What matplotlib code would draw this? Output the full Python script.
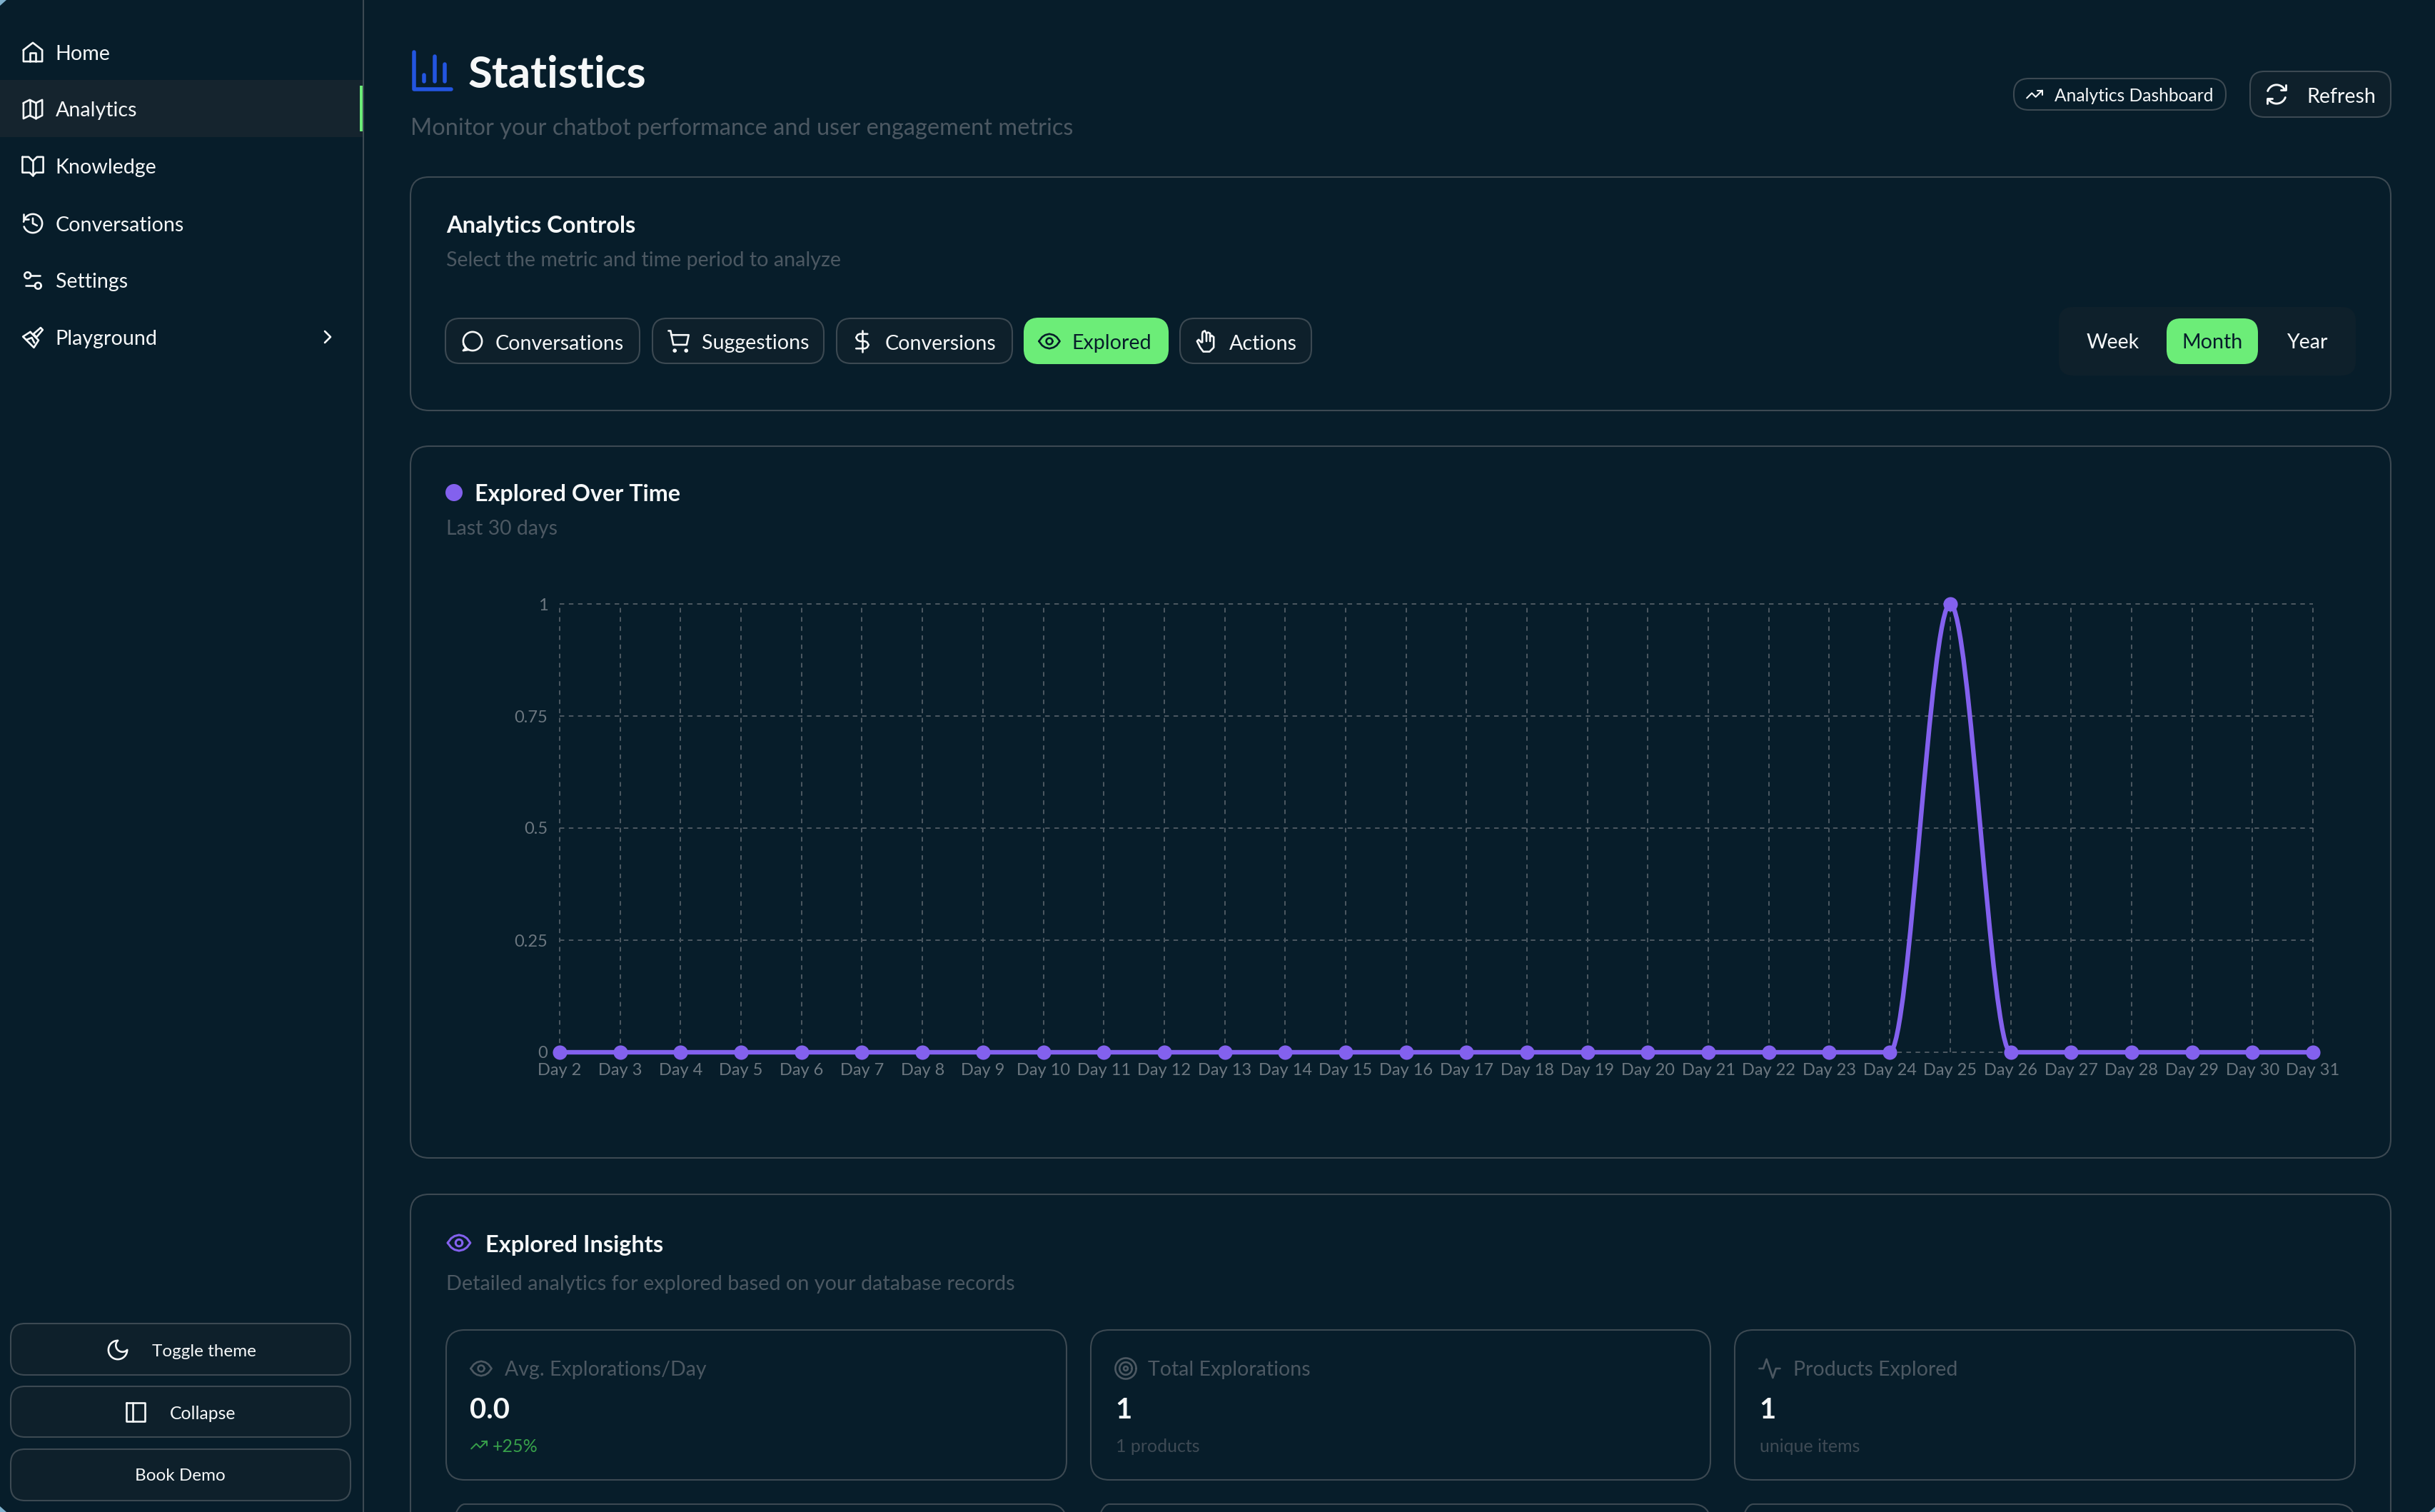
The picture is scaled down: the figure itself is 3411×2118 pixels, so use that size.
import numpy as np
import matplotlib
matplotlib.use('Agg')
import matplotlib.pyplot as plt
from matplotlib.patches import FancyBboxPatch, Circle, PathPatch, Rectangle, Polygon
from matplotlib.path import Path

plt.rcParams['font.family'] = ['Lato', 'DejaVu Sans']

W, H = 3412, 2118

# --- data ---
days = ['Day %d' % d for d in range(2, 32)]
explored = [0, 0, 0, 0, 0, 0, 0, 0, 0, 0, 0, 0, 0, 0, 0, 0, 0, 0, 0, 0, 0, 0, 0, 1, 0, 0, 0, 0, 0, 0]
y_ticks = [0, 0.25, 0.5, 0.75, 1]
y_tick_labels = ['0', '0.25', '0.5', '0.75', '1']

nav_labels = ['Home', 'Analytics', 'Knowledge', 'Conversations', 'Settings', 'Playground']
nav_icons = ['home', 'map', 'book', 'history', 'sliders', 'brush']
metric_labels = ['Conversations', 'Suggestions', 'Conversions', 'Explored', 'Actions']
metric_icons = ['message', 'cart', 'dollar', 'eye', 'hand']
period_labels = ['Week', 'Month', 'Year']
stat_labels = ['Avg. Explorations/Day', 'Total Explorations', 'Products Explored']
stat_values = ['0.0', '1', '1']
stat_notes = ['+25%', '1 products', 'unique items']
stat_icons = ['eye', 'target', 'activity']

# --- colours ---
BG = '#071d2a'
BORDER = '#3c4952'
BTN = '#0e202b'
ACTIVE = '#15242e'
GREEN = '#6ced78'
PURPLE = '#8361ee'
BLUE = '#2355e0'
WHITE = '#f5f7f8'
DIM = '#4c5862'
DIMMER = '#3e4a54'
TICK = '#6c7780'
GRID = '#4d5962'
SOFT_GREEN = '#37a04a'
CORNER = '#7fb0cc'


def arc(cx, cy, r, t1, t2, n=40):
    t = np.radians(np.linspace(t1, t2, n))
    return list(zip(cx + r * np.cos(t), cy + r * np.sin(t)))


# lucide style icons on a 24 unit grid, angles run clockwise because y points down
ICONS = {
    'home': [[(3, 10), (12, 3), (21, 10), (21, 21), (3, 21), (3, 10)], [(9, 21), (9, 13), (15, 13), (15, 21)]],
    'map': [[(3, 6), (9, 3), (15, 6), (21, 3), (21, 18), (15, 21), (9, 18), (3, 21), (3, 6)], [(9, 3), (9, 18)], [(15, 6), (15, 21)]],
    'book': [[(2, 3), (8, 3), (12, 7), (16, 3), (22, 3), (22, 18), (15, 18), (12, 21), (9, 18), (2, 18), (2, 3)], [(12, 7), (12, 21)]],
    'history': [arc(12, 12, 9, 190, 520), [(3, 3), (3, 8), (8, 8)], [(12, 7), (12, 12), (16, 14)]],
    'sliders': [[(14, 17), (5, 17)], [(19, 7), (10, 7)], arc(17, 17, 3, 0, 360), arc(7, 7, 3, 0, 360)],
    'brush': [[(19.5, 2.5), (21.5, 4.5), (15.5, 11.5), (12.5, 8.5), (19.5, 2.5)], [(9.5, 6.5), (17.5, 14.5), (13, 21.5), (2.5, 11), (9.5, 6.5)], [(6, 14), (11, 12), (13.5, 17)]],
    'chevron': [[(9, 6), (15, 12), (9, 18)]],
    'chart': [[(3, 3), (3, 21), (21, 21)], [(18, 17), (18, 9)], [(13, 17), (13, 5)], [(8, 17), (8, 14)]],
    'refresh': [arc(12, 12, 9, 200, 330), arc(12, 12, 9, 20, 150), [(21, 3), (21, 8), (16, 8)], [(8, 16), (3, 16), (3, 21)]],
    'trend': [[(22, 7), (13.5, 15.5), (8.5, 10.5), (2, 17)], [(16, 7), (22, 7), (22, 13)]],
    'message': [arc(12, 12, 9, 135, 520), [(5.6, 18.4), (3, 21), (8, 20.2)]],
    'cart': [[(2, 2), (4, 2), (6.7, 15.4), (19.4, 15.4), (21.4, 6), (5, 6)], arc(8, 21, 1, 0, 360), arc(19, 21, 1, 0, 360)],
    'dollar': [[(12, 2), (12, 22)], [(17, 5), (9.5, 5), (7.5, 5.8), (6, 8.5), (7.5, 11), (9.5, 12), (14.5, 12), (16.5, 13), (18, 15.5), (16.5, 18), (14.5, 19), (6, 19)]],
    'eye': [[(2, 12), (5, 8), (8, 6), (12, 5), (16, 6), (19, 8), (22, 12), (19, 16), (16, 18), (12, 19), (8, 18), (5, 16), (2, 12)], arc(12, 12, 3, 0, 360)],
    'hand': [[(7, 13), (4.5, 10.5), (3, 12), (6, 18), (9, 22), (15, 22), (19, 18), (19, 8), (17, 6.5), (15.5, 8), (15.5, 12)], [(15.5, 8), (15.5, 4.5), (13.5, 3.5), (12, 4.5), (12, 12)], [(12, 4.5), (10.5, 2), (8.5, 3), (8, 5), (8, 13)]],
    'moon': [arc(12, 12, 9, 0, 270), arc(16.5, 7.5, 6.36, 225, 45, 30)],
    'panel': [[(3, 3), (21, 3), (21, 21), (3, 21), (3, 3)], [(9, 3), (9, 21)]],
    'target': [arc(12, 12, 10, 0, 360), arc(12, 12, 6, 0, 360), arc(12, 12, 2, 0, 360)],
    'activity': [[(22, 12), (18, 12), (15, 21), (9, 3), (6, 12), (2, 12)]],
}

fig = plt.figure(figsize=(W / 100, H / 100), dpi=100, facecolor=BG)
bg = fig.add_axes([0, 0, 1, 1])
bg.set_xlim(0, W)
bg.set_ylim(H, 0)
bg.axis('off')


def label(x, y, s, px=28.6, color=WHITE, ha='left', weight='normal'):
    # px is the font size in picture pixels
    bg.text(x - 0.3, y, s, fontsize=px * 0.72, color=color, ha=ha, va='center_baseline', fontweight=weight)


def box(x0, y0, x1, y1, r, fc='none', ec=BORDER, lw=1.5):
    bg.add_patch(FancyBboxPatch((x0, y0), x1 - x0, y1 - y0, boxstyle='round,pad=0,rounding_size=%g' % r,
                                fc=fc, ec=ec, lw=lw))


def icon(name, cx, cy, size=35, color=WHITE, lw=1.9):
    u = size / 24
    for pts in ICONS[name]:
        pts = np.array(pts, dtype=float)
        bg.plot(cx + (pts[:, 0] - 12) * u, cy + (pts[:, 1] - 12) * u, color=color, lw=lw,
                solid_capstyle='round', solid_joinstyle='round')


# window corners show the page behind
bg.add_patch(Polygon([(0, 0), (9, 0), (0, 8)], fc=CORNER, ec='none'))
bg.add_patch(Polygon([(0, H), (9, H), (0, H - 8)], fc=CORNER, ec='none'))
bg.add_patch(Polygon([(W, H), (W - 9, H), (W, H - 8)], fc=CORNER, ec='none'))

# --- sidebar ---
bg.add_patch(Rectangle((0, 112), 509, 80, fc=ACTIVE, ec='none'))
bg.add_patch(Rectangle((504, 120), 5, 64, fc=GREEN, ec='none'))
bg.plot([509, 509], [0, H], color=BORDER, lw=1.5)
for i, (name, ic) in enumerate(zip(nav_labels, nav_icons)):
    y = 73 + 80 * i
    icon(ic, 46, y)
    label(78, y, name)
icon('chevron', 459, 472, size=32)

for y0, y1 in [(1854, 1926), (1942, 2013), (2030, 2102)]:
    box(15, y0, 491, y1, 20, fc=BTN)
icon('moon', 165, 1891)
label(213, 1891, 'Toggle theme', px=24.3)
icon('panel', 190, 1978)
label(238, 1978, 'Collapse', px=24.8)
label(253, 2066, 'Book Demo', px=24.3, ha='center')

# --- header ---
icon('chart', 606, 99, size=70, color=BLUE, lw=4.0)
label(656, 100, 'Statistics', px=61.8, weight='bold')
label(575, 177, 'Monitor your chatbot performance and user engagement metrics', px=32.5, color=DIM)
box(2821, 110, 3118, 154, 21, fc='none')
icon('trend', 2850, 132, size=26, lw=1.5)
label(2878, 132, 'Analytics Dashboard', px=24.6)
box(3152, 100, 3349, 164, 20, fc=BTN)
icon('refresh', 3189, 132, lw=2.1)
label(3232, 133, 'Refresh')

# --- controls card ---
box(575, 248, 3349, 575, 26)
label(625, 314, 'Analytics Controls', px=32.7, weight='bold')
label(625, 362, 'Select the metric and time period to analyze', px=28.6, color=DIM)

btn_edges = [(624, 896), (914, 1154), (1172, 1418), (1435, 1636), (1653, 1837)]
btn_text_x = [694, 983, 1240, 1502, 1722]
for i, (name, ic) in enumerate(zip(metric_labels, metric_icons)):
    on = name == 'Explored'
    x0, x1 = btn_edges[i]
    box(x0, 446, x1, 509, 20, fc=GREEN if on else BTN, ec=GREEN if on else BORDER)
    c = BG if on else WHITE
    icon(ic, btn_text_x[i] - 32, 478, color=c)
    label(btn_text_x[i], 479, name, color=c)

box(2884, 430, 3300, 526, 20, fc=BTN, ec='none')
box(3035, 446, 3163, 510, 20, fc=GREEN, ec='none')
for name, xc in zip(period_labels, [2960, 3099, 3232]):
    label(xc, 478, name, ha='center', color=BG if name == 'Month' else WHITE)

# --- chart card ---
box(575, 625, 3349, 1622, 26)
bg.add_patch(Circle((636, 690), 12, fc=PURPLE, ec='none'))
label(665, 690, 'Explored Over Time', px=32.3, weight='bold')
label(625, 739, 'Last 30 days', px=28.4, color=DIM)

ax = fig.add_axes([784 / W, 1 - 1474 / H, (3240 - 784) / W, (1474 - 846) / H], facecolor='none')
ax.set_zorder(2)
x = np.arange(len(days))
ax.set_xlim(x[0], x[-1])
ax.set_ylim(0, 1)
ax.set_xticks(x)
ax.set_xticklabels(days)
ax.set_yticks(y_ticks)
ax.set_yticklabels(y_tick_labels)
ax.tick_params(axis='x', length=0, pad=11, labelsize=17, labelcolor=TICK)
ax.tick_params(axis='y', length=0, pad=12, labelsize=17, labelcolor=TICK)
for s in ax.spines.values():
    s.set_visible(False)
ax.grid(True, color=GRID, lw=1.4, ls=(0, (3.3, 3.3)))
ax.set_axisbelow(True)
for g in ax.get_xgridlines() + ax.get_ygridlines():
    g.set_clip_on(False)

# monotone curve: flat tangents at each day, same as the chart library draws it
verts = [(x[0], explored[0])]
codes = [Path.MOVETO]
for i in range(len(x) - 1):
    verts += [(x[i] + 1 / 3, explored[i]), (x[i + 1] - 1 / 3, explored[i + 1]), (x[i + 1], explored[i + 1])]
    codes += [Path.CURVE4] * 3
ax.add_patch(PathPatch(Path(verts, codes), fc='none', ec=PURPLE, lw=4.6, clip_on=False))
ax.plot(x, explored, ls='none', marker='o', ms=14.5, mfc=PURPLE, mec=PURPLE, mew=0, clip_on=False)

# --- insights card ---
box(575, 1673, 3349, 2300, 26)
icon('eye', 643, 1741, size=38, color=PURPLE, lw=2.2)
label(680, 1742, 'Explored Insights', px=32.5, weight='bold')
label(625, 1796, 'Detailed analytics for explored based on your database records', px=28.9, color=DIM)

card_edges = [(625, 1494), (1528, 2396), (2430, 3299)]
text_x = [707, 1608, 2512]
icon_x = [674, 1577, 2479]
value_x = [658, 1563, 2465]
for i in range(3):
    x0, x1 = card_edges[i]
    box(x0, 1863, x1, 2073, 26)
    box(x0, 2107, x1, 2300, 26)
    icon(stat_icons[i], icon_x[i], 1917, color=DIM)
    label(text_x[i], 1917, stat_labels[i], px=28.5, color=DIM)
    label(value_x[i], 1972, stat_values[i], px=40, weight='bold')
icon('trend', 671, 2024, size=26, color=SOFT_GREEN, lw=1.4)
label(690, 2024, stat_notes[0], px=25, color=SOFT_GREEN)
label(value_x[1], 2024, stat_notes[1], px=25, color=DIMMER)
label(value_x[2], 2024, stat_notes[2], px=25, color=DIMMER)

fig.savefig('out.png', dpi=100, facecolor=BG)
